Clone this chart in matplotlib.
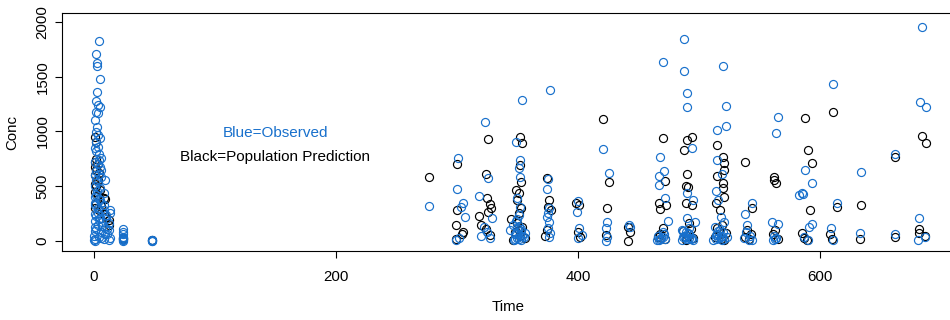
import matplotlib
matplotlib.use("Agg")
import matplotlib.pyplot as plt

plt.rcParams['font.family'] = ['Liberation Sans', 'DejaVu Sans']

# ---- data (Time, Conc) ----
obs_time = [
    # early dosing period
    4.5, 1.7, 2.5, 2.5, 5, 2.5, 2, 3.5, 5, 1.5, 3.5, 1, 2.5, 1.5, 3.5, 5, 1, 2, 4, 6,
    1, 3, 5, 2, 4, 0.5, 6, 9, 3, 1, 5, 8, 2, 0.5, 4, 6, 1, 3, 13, 8,
    13, 0.5, 2, 5, 10, 1, 7, 12, 3, 0.5, 9, 12, 1, 6, 11, 0, 4, 13, 0.5, 8,
    0, 1, 12, 2, 3, 4, 6, 8, 10, 1.5, 2.5, 3.5, 5, 7, 9, 11, 0.5, 2, 4, 6,
    24, 24, 24, 24, 24, 24, 24, 24,
    48, 48, 48, 48,
    # later visits
    277,
    301, 300, 305, 303, 307, 299, 302,
    323, 326, 318, 329, 322, 325, 327, 320,
    354, 349, 352, 351, 352, 350, 352, 351, 346, 350, 353, 348, 355, 351, 347, 353, 349, 356, 344,
    350, 352, 349, 353, 351, 348, 354, 350,
    377, 375, 374, 376, 375, 374, 376, 375, 377, 376,
    400, 399, 401, 403, 400,
    421, 426, 424, 423, 424, 423,
    442, 443,
    470, 468, 471, 467, 467, 472, 474, 470, 466, 469, 472, 465, 471, 468, 470, 467,
    488, 488, 490, 490, 494, 490, 495, 490, 497, 486, 489, 492, 487, 494, 490, 486, 495, 492,
    488, 491, 493, 489, 487, 492,
    520, 522, 522, 515, 515, 519, 514, 516, 518, 521, 513, 517, 520, 514, 523, 516, 519, 512,
    515, 518, 521, 516, 519, 514,
    544, 538, 540, 539, 542, 537, 544, 541,
    565, 564, 560, 565, 562, 564, 561, 563,
    583, 588, 593, 585, 586, 593, 591, 587, 590,
    611, 614, 609, 611,
    634, 633,
    662, 662,
    684, 683, 688, 682, 687, 681,
]
obs_conc = [
    1826, 1708, 1626, 1598, 1479, 1361, 1279, 1242, 1224, 1178, 1169, 1105, 1041, 995, 968, 941, 849, 820, 790, 760,
    720, 700, 680, 640, 610, 600, 580, 557, 540, 500, 480, 438, 420, 400, 380, 350, 330, 300, 283, 280,
    256, 250, 230, 210, 200, 180, 170, 160, 150, 130, 120, 100, 90, 80, 60, 50, 40, 30, 20, 15,
    5, 2, 10, 900, 860, 740, 650, 330, 240, 560, 460, 260, 370, 140, 60, 110, 350, 110, 200, 30,
    110, 60, 40, 27, 15, 5, 0, 80,
    10, 5, 2, 0,
    320,
    758, 475, 347, 310, 219, 9, 30,
    1087, 575, 411, 210, 128, 82, 27, 45,
    1288, 904, 740, 667, 584, 393, 310, 237, 150, 120, 90, 60, 40, 20, 5, 10, 180, 70, 100,
    30, 55, 75, 110, 135, 15, 45, 200,
    1379, 566, 475, 301, 256, 219, 174, 119, 73, 37,
    365, 265, 119, 55, 27,
    840, 621, 174, 119, 37, 0,
    146, 130,
    1635, 767, 639, 594, 511, 393, 183, 82, 50, 30, 15, 5, 60, 20, 40, 10,
    1845, 1553, 1352, 1224, 849, 438, 374, 210, 174, 100, 80, 60, 40, 30, 20, 5, 10, 120,
    50, 70, 15, 35, 90, 25,
    1598, 1233, 1050, 1014, 740, 612, 457, 374, 219, 174, 130, 100, 80, 55, 40, 25, 10, 5,
    65, 35, 15, 90, 50, 20,
    347, 247, 146, 80, 50, 30, 10, 5,
    1132, 986, 174, 155, 50, 30, 10, 20,
    420, 648, 530, 438, 429, 155, 128, 37, 9,
    1434, 347, 119, 9,
    630, 73,
    794, 64,
    1954, 1269, 1224, 210, 37, 9,
]

pred_time = [
    1, 1.5, 2, 1, 3, 0.5, 2, 4, 1, 3, 0.5, 2, 5, 1, 3, 8, 9, 2, 6, 1, 4, 12, 10, 8, 12,
    24, 24, 48,
    277,
    300, 300, 299, 305, 299, 304,
    326, 324, 325, 327, 328, 318, 326, 324, 327, 320,
    352, 354, 352, 353, 349, 351, 350, 353, 351, 345, 350, 354, 348, 352, 356, 346, 351,
    374, 376, 375, 378, 374, 373,
    398, 401, 400, 402,
    421, 426, 424, 423,
    441, 443, 441,
    470, 472, 467, 468, 473, 470, 466, 472, 468,
    490, 494, 488, 490, 489, 491, 489, 494, 492, 487, 491, 495, 489, 493,
    515, 520, 521, 521, 515, 520, 520, 521, 514, 517, 519, 515, 522, 513, 518, 521,
    538, 544, 540, 543, 538, 541,
    562, 562, 564, 563, 561, 565,
    588, 590, 593, 592, 585, 587, 589,
    611, 614, 608, 610,
    634, 633,
    662, 662,
    684, 688, 682, 682, 687,
]
pred_conc = [
    950, 900, 750, 720, 700, 680, 650, 620, 600, 560, 520, 500, 470, 450, 420, 393, 380, 350, 320, 300, 280, 192, 220, 250, 150,
    30, 20, 5,
    584,
    703, 283, 146, 82, 18, 60,
    931, 612, 393, 338, 301, 228, 265, 110, 55, 150,
    950, 895, 694, 539, 466, 438, 374, 301, 256, 200, 160, 130, 80, 50, 25, 10, 100,
    575, 374, 310, 283, 100, 50,
    347, 329, 82, 37,
    1114, 539, 301, 55,
    128, 82, 0,
    941, 548, 347, 292, 329, 119, 40, 20, 60,
    922, 950, 831, 612, 502, 493, 347, 329, 164, 90, 50, 25, 10, 110,
    877, 767, 712, 648, 594, 530, 484, 402, 347, 283, 150, 120, 70, 40, 20, 5,
    721, 301, 100, 60, 40, 15,
    584, 557, 530, 100, 60, 20,
    1123, 831, 712, 283, 73, 27, 10,
    1178, 310, 64, 18,
    329, 18,
    767, 37,
    959, 895, 110, 73, 46,
]

x_ticks = [0, 200, 400, 600]
y_ticks = [0, 500, 1000, 1500, 2000]

BLUE = '#1870CC'

fig = plt.figure(figsize=(9.5, 3.2), dpi=100)
ax = fig.add_axes([62/950, 69/320, (955-62)/950, 238/320])

ax.plot(pred_time, pred_conc, linestyle='none', marker='o', markersize=5.8,
        markerfacecolor='none', markeredgecolor='black', markeredgewidth=0.85)
ax.plot(obs_time, obs_conc, linestyle='none', marker='o', markersize=5.8,
        markerfacecolor='none', markeredgecolor=BLUE, markeredgewidth=0.85)

ax.set_xlim(-26.45, 711.6)
ax.set_ylim(-91.3, 2082)

ax.set_xticks(x_ticks)
ax.set_yticks(y_ticks)
ax.set_xticklabels([str(v) for v in x_ticks], fontsize=10.8)
ax.set_yticklabels([str(v) for v in y_ticks], fontsize=10.8, rotation=90, va='center')
ax.tick_params(axis='x', direction='out', length=5, width=0.8, pad=9)
ax.tick_params(axis='y', direction='out', length=5, width=0.8, pad=4)

for s in ax.spines.values():
    s.set_linewidth(0.8)

ax.set_xlabel('Time', fontsize=10.8, va='center')
ax.set_ylabel('Conc', fontsize=10.8, va='center')
ax.xaxis.set_label_coords((508 - 62) / 893, (251 - 307) / 238)
ax.yaxis.set_label_coords((12 - 62) / 893, 0.5)

ax.text(150, 986, 'Blue=Observed', color=BLUE, fontsize=11, ha='center', va='center')
ax.text(150, 767, 'Black=Population Prediction', color='black', fontsize=11, ha='center', va='center')

fig.savefig('out.png', dpi=100)
